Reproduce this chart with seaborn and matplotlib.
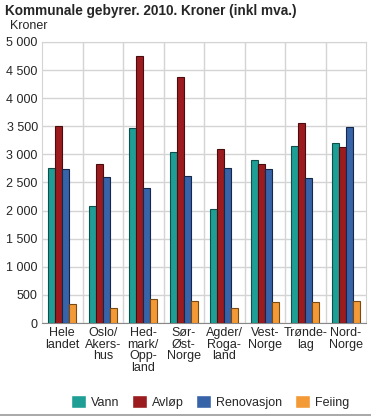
import matplotlib
matplotlib.use("Agg")
import matplotlib.pyplot as plt
import seaborn as sns
import pandas as pd
import numpy as np

regions = ["Hele\nlandet", "Oslo/\nAkers-\nhus", "Hed-\nmark/\nOpp-\nland", "Sør-\nØst-\nNorge",
           "Agder/\nRoga-\nland", "Vest-\nNorge", "Trønde-\nlag", "Nord-\nNorge"]
vann = [2760, 2090, 3475, 3040, 2035, 2900, 3150, 3200]
avlop = [3510, 2825, 4745, 4370, 3090, 2830, 3555, 3140]
renovasjon = [2740, 2600, 2410, 2610, 2760, 2740, 2580, 3495]
feiing = [345, 265, 430, 390, 270, 375, 370, 390]

series = ["Vann", "Avløp", "Renovasjon", "Feiing"]
colors = ["#1f9e96", "#9b1b1f", "#3763a8", "#f39a36"]
edges = ["#0d4f4a", "#4a0c0e", "#15284a", "#7a4a12"]

df = pd.DataFrame({
    "region": regions * 4,
    "serie": sum([[s] * len(regions) for s in series], []),
    "kroner": vann + avlop + renovasjon + feiing,
})

sns.set_style("white")
plt.rcParams["font.family"] = ["Liberation Sans", "DejaVu Sans"]

fig = plt.figure(figsize=(3.71, 4.17), dpi=100)
ax = fig.add_axes([42 / 371, 1 - 323 / 417, 324 / 371, 281 / 417])

sns.barplot(data=df, x="region", y="kroner", hue="serie", hue_order=series,
            palette=colors, saturation=1, width=0.68, ax=ax, legend=True, zorder=3)

for cont, ec in zip(ax.containers, edges):
    for bar in cont:
        bar.set_edgecolor(ec)
        bar.set_linewidth(0.8)

ax.set_ylim(0, 5000)
ax.set_xlim(-0.5, len(regions) - 0.5)
yt = np.arange(0, 5001, 500)
ax.set_yticks(yt)
ax.set_yticklabels([f"{v:,}".replace(",", " ") for v in yt], fontsize=9)
ax.set_xticks(range(len(regions)))
ax.set_xticklabels(regions, fontsize=9, linespacing=0.95)
ax.set_xticks(np.arange(0.5, len(regions) - 0.5, 1), minor=True)
ax.tick_params(axis="both", length=0, pad=3)
ax.tick_params(axis="x", which="minor", length=0)
ax.grid(axis="y", color="#d4d4d4", linewidth=1, zorder=0)
ax.grid(axis="x", which="minor", color="#d4d4d4", linewidth=1, zorder=0)
ax.set_xlabel("")
ax.set_ylabel("")
for side in ["top", "right", "left"]:
    ax.spines[side].set_color("#d4d4d4")
ax.spines["bottom"].set_color("#888888")

handles, labels = ax.get_legend_handles_labels()
ax.legend_.remove()
fig.legend(handles, labels, loc="center", bbox_to_anchor=(210 / 371, 1 - 402 / 417), ncol=4,
           frameon=False, fontsize=9, handlelength=1.2, handleheight=1.2,
           columnspacing=1.0, handletextpad=0.4)

fig.text(5 / 371, 1 - 11 / 417, "Kommunale gebyrer. 2010. Kroner (inkl mva.)",
         fontsize=9.8, fontweight="bold", va="center")
fig.text(10 / 371, 1 - 26 / 417, "Kroner", fontsize=9, va="center")
fig.add_artist(plt.Line2D([0, 1], [1 - 415 / 417] * 2, color="#999999", linewidth=1.2))

fig.savefig("out.png", dpi=100)
